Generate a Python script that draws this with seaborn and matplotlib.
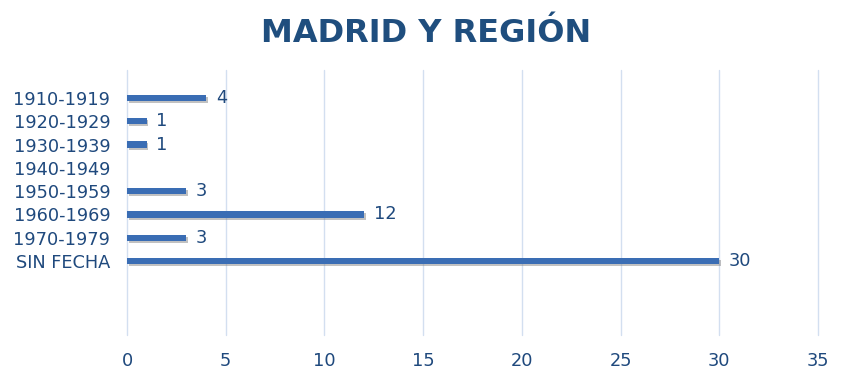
import pandas as pd
import seaborn as sns
import matplotlib.pyplot as plt
import matplotlib.patheffects as pe

# Data
periods = ["1910-1919", "1920-1929", "1930-1939", "1940-1949",
           "1950-1959", "1960-1969", "1970-1979", "SIN FECHA"]
counts = [4, 1, 1, 0, 3, 12, 3, 30]
x_ticks = [0, 5, 10, 15, 20, 25, 30, 35]

text_color = "#1f497d"
bar_color = "#3a6db4"
grid_color = "#d3dff0"

df = pd.DataFrame({"periodo": periods, "total": counts})

sns.set_style("white")
plt.rcParams["font.family"] = ["DejaVu Sans"]

fig = plt.figure(figsize=(8.53, 3.81), dpi=100)
ax = fig.add_axes([0.1489, 0.1207, 0.959 - 0.1489, 0.8163 - 0.1207])

sns.barplot(data=df, x="total", y="periodo", order=periods, color=bar_color,
            width=0.27, saturation=1, linewidth=0, ax=ax)

# Light drop shadow under the bars, as in the original
for patch in ax.patches:
    patch.set_path_effects([pe.SimplePatchShadow(offset=(1.2, -1.5), shadow_rgbFace="#777777", alpha=0.45),
                            pe.Normal()])

labels = [str(v) if v else "" for v in counts]
ax.bar_label(ax.containers[0], labels=labels, padding=7, fontsize=12.8, color=text_color)

ax.set_xlim(0, 35)
ax.set_xticks(x_ticks)
ax.set_ylim(10.18, -1.2)

ax.grid(axis="x", color=grid_color, linewidth=1)
for gl in ax.get_xgridlines():
    gl.set_clip_on(False)
ax.set_axisbelow(True)
for s in ax.spines.values():
    s.set_visible(False)

ax.tick_params(axis="both", length=0, labelsize=12.8, labelcolor=text_color)
ax.tick_params(axis="y", pad=12)
ax.tick_params(axis="x", pad=12)
ax.set_xlabel("")
ax.set_ylabel("")

fig.text(0.5, 0.913, "MADRID Y REGIÓN", ha="center", va="center",
         fontsize=23, fontweight="bold", color="#1f4e7e")

fig.savefig("out.png", dpi=100)
